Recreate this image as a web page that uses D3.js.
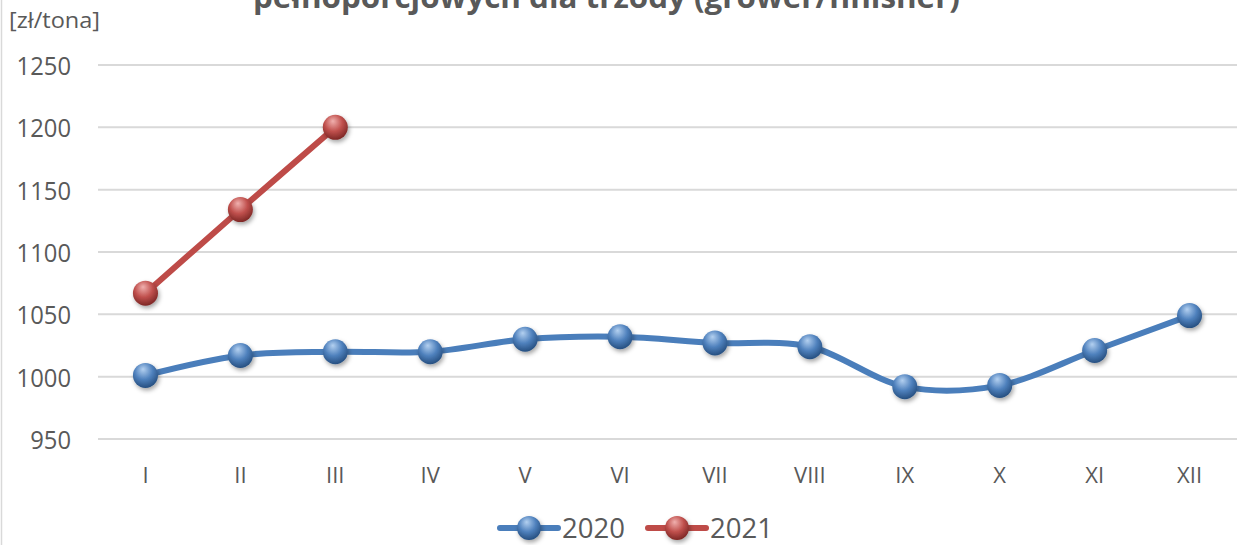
<!DOCTYPE html>
<html lang="en">
<head>
    <meta charset="UTF-8">
    <script src="https://cdn.jsdelivr.net/npm/d3@7"></script>
    <style>
        body { margin: 0; background: #ffffff; }
        text { font-family: "Open Sans", Lato, sans-serif; fill: #595959; }
        .grid line { stroke: #d9d9d9; stroke-width: 2px; }
    </style>
</head>
<body>
<script>
    const width = 1238;
    const height = 545;

    const months = ['I', 'II', 'III', 'IV', 'V', 'VI', 'VII', 'VIII', 'IX', 'X', 'XI', 'XII'];
    const values2020 = [1001, 1017, 1020, 1020, 1030, 1032, 1027, 1024, 992, 993, 1021, 1049];
    const values2021 = [1067, 1134, 1200];
    const yTicks = [950, 1000, 1050, 1100, 1150, 1200, 1250];

    const series = [
        {name: '2020', values: values2020, line: '#4a7ebb', light: '#b3d0f0', mid: '#4f81bd', dark: '#264f80'},
        {name: '2021', values: values2021, line: '#be4b48', light: '#f0b0ae', mid: '#c0504d', dark: '#7d2725'}
    ];

    const x = d3.scaleBand().domain(months).range([98, 1237]);
    const y = d3.scaleLinear().domain([950, 1250]).range([439, 65]);

    const svg = d3.select('body').append('svg')
        .attr('width', width)
        .attr('height', height);

    const defs = svg.append('defs');
    series.forEach((s, i) => {
        const g = defs.append('radialGradient')
            .attr('id', 'ball' + i)
            .attr('cx', '45%').attr('cy', '35%').attr('r', '65%')
            .attr('fx', '40%').attr('fy', '25%');
        g.append('stop').attr('offset', '0%').attr('stop-color', s.light);
        g.append('stop').attr('offset', '55%').attr('stop-color', s.mid);
        g.append('stop').attr('offset', '100%').attr('stop-color', s.dark);
    });
    const shadow = defs.append('filter').attr('id', 'shadow')
        .attr('x', '-50%').attr('y', '-50%').attr('width', '200%').attr('height', '200%');
    shadow.append('feDropShadow')
        .attr('dx', 1.5).attr('dy', 2.5).attr('stdDeviation', 2)
        .attr('flood-color', '#000').attr('flood-opacity', 0.35);

    // chart border on the left
    svg.append('line')
        .attr('x1', 1.5).attr('x2', 1.5).attr('y1', 0).attr('y2', height)
        .attr('stroke', '#d9d9d9').attr('stroke-width', 1.5);

    // title (first line lies outside the picture)
    svg.append('text')
        .attr('x', 253).attr('y', 8)
        .attr('textLength', 707).attr('lengthAdjust', 'spacingAndGlyphs')
        .style('font-size', '31px').style('font-weight', 'bold')
        .text('pełnoporcjowych dla trzody (grower/finisher)');

    svg.append('text')
        .attr('x', 9).attr('y', 28)
        .attr('textLength', 91).attr('lengthAdjust', 'spacingAndGlyphs')
        .style('font-size', '21px')
        .text('[zł/tona]');

    const grid = svg.append('g').attr('class', 'grid');
    grid.selectAll('line').data(yTicks).enter().append('line')
        .attr('x1', 98).attr('x2', 1237)
        .attr('y1', d => y(d)).attr('y2', d => y(d));

    const yAxis = svg.append('g')
        .attr('transform', 'translate(71,0)')
        .call(d3.axisLeft(y).tickValues(yTicks).tickSize(0).tickPadding(0).tickFormat(d3.format('d')));
    yAxis.select('.domain').remove();
    yAxis.selectAll('text')
        .attr('dy', '0.36em')
        .attr('textLength', d => String(d).length * 13.6)
        .attr('lengthAdjust', 'spacingAndGlyphs')
        .style('font-size', '26px')
        .style('font-family', '"Open Sans", Lato, sans-serif')
        .attr('fill', '#595959');

    const xAxis = svg.append('g')
        .attr('transform', 'translate(0,475)')
        .call(d3.axisBottom(x).tickSize(0).tickPadding(0));
    xAxis.select('.domain').remove();
    xAxis.selectAll('text')
        .attr('y', 0).attr('dy', '0.36em')
        .style('font-size', '22px')
        .style('font-family', '"Open Sans", Lato, sans-serif')
        .attr('fill', '#595959');

    const line = d3.line()
        .x((d, i) => x(months[i]) + x.bandwidth() / 2)
        .y(d => y(d))
        .curve(d3.curveCardinal.tension(0));

    series.forEach((s, i) => {
        const g = svg.append('g');
        g.append('path')
            .datum(s.values)
            .attr('fill', 'none')
            .attr('stroke', s.line)
            .attr('stroke-width', 6)
            .attr('stroke-linejoin', 'round')
            .attr('d', line);
        g.selectAll('circle').data(s.values).enter().append('circle')
            .attr('cx', (d, j) => x(months[j]) + x.bandwidth() / 2)
            .attr('cy', d => y(d))
            .attr('r', 12.5)
            .attr('fill', 'url(#ball' + i + ')')
            .attr('filter', 'url(#shadow)');
    });

    // legend
    const legendX = [500, 648];
    series.forEach((s, i) => {
        const g = svg.append('g').attr('transform', `translate(${legendX[i]},528)`);
        g.append('line')
            .attr('x1', 0).attr('x2', 58).attr('y1', 0).attr('y2', 0)
            .attr('stroke', s.line).attr('stroke-width', 6).attr('stroke-linecap', 'round');
        g.append('circle')
            .attr('cx', 29).attr('cy', 0).attr('r', 12)
            .attr('fill', 'url(#ball' + i + ')')
            .attr('filter', 'url(#shadow)');
        g.append('text')
            .attr('x', 62).attr('y', 9.5)
            .attr('textLength', 63).attr('lengthAdjust', 'spacingAndGlyphs')
            .style('font-size', '27px')
            .text(s.name);
    });
</script>
</body>
</html>
